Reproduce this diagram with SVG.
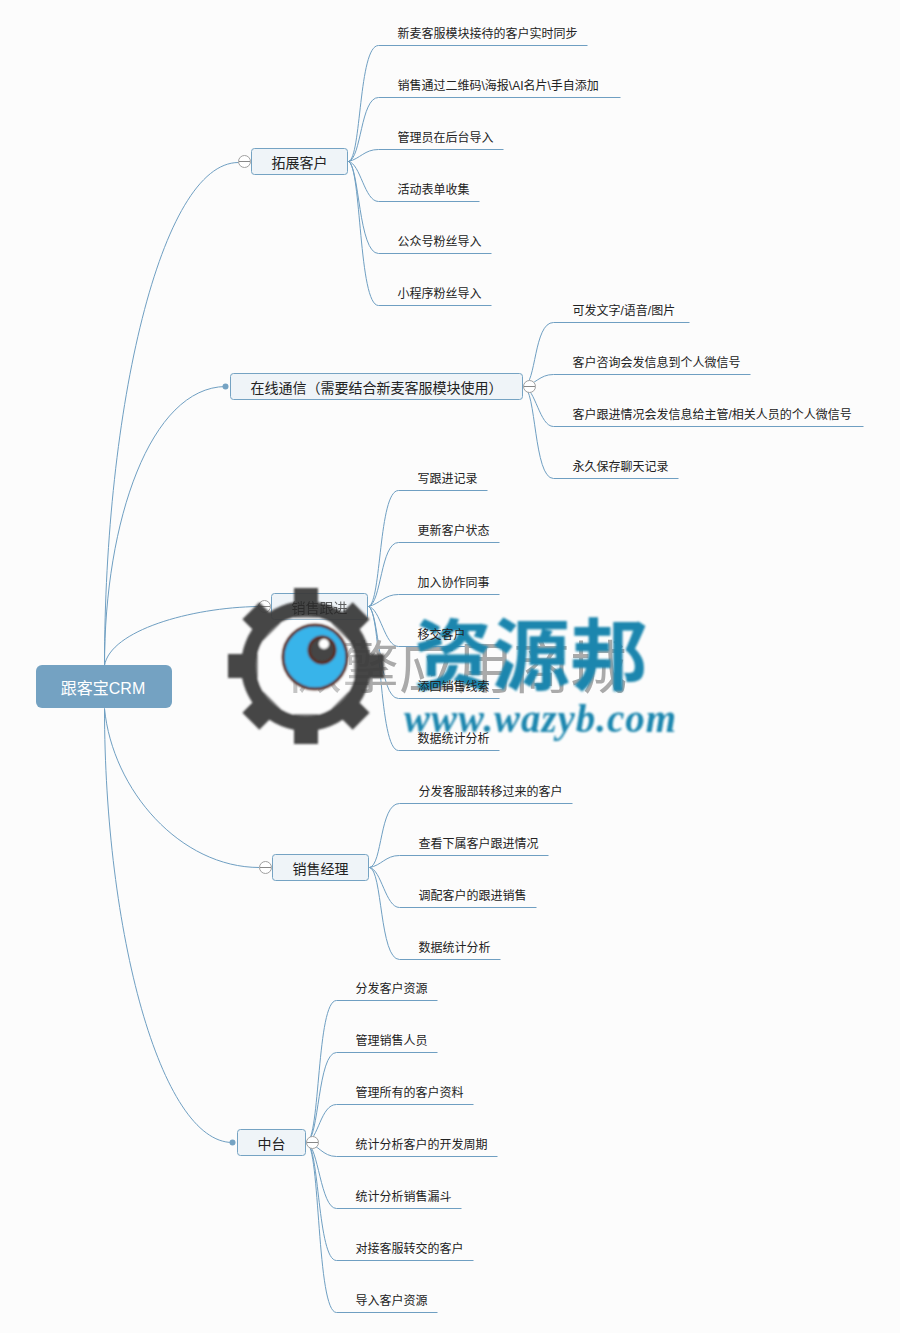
<svg xmlns="http://www.w3.org/2000/svg" width="900" height="1333" viewBox="0 0 900 1333">
<style>
text{font-family:"Liberation Sans","Noto Sans CJK SC",sans-serif;fill:#222}
.leaf{font-size:12px}
.topic{font-size:14px;text-anchor:middle}
.box{fill:#eff4f8;stroke:#75a3c3;stroke-width:1}
.root{fill:#74a2c2}
.rt{font-size:16px;fill:#fff;text-anchor:middle}
.c{fill:none;stroke:#6f9fc2;stroke-width:1}
.fold{fill:#fff;stroke:#a0a0a0;stroke-width:1}
.minus{stroke:#888;stroke-width:1}
.dot{fill:#75a3c3}
.tooth{fill:#3c3c3c}
</style>
<defs>
<filter id="soft" x="-5%" y="-5%" width="110%" height="110%"><feGaussianBlur stdDeviation="0.9"/></filter>
</defs>
<rect width="900" height="1333" fill="#fcfcfc"/>
<g id="connectors" transform="translate(0.5 0.5)">
<path class="c" d="M104 665C104 410 160 162 238 162"/>
<path class="c" d="M104 665C104 520 150 387 225 386"/>
<path class="c" d="M104 665C110 630 190 607 258 606"/>
<path class="c" d="M104 708C112 790 180 867 259 867"/>
<path class="c" d="M104 708C104 930 160 1142 232 1142"/>
<g id="c1">
<path class="c" d="M348 161C361 158 358 45 378 45H587"/>
<path class="c" d="M348 161C361 158 360 97 378 97H620"/>
<path class="c" d="M348 161C360 158 364 149 378 149H503"/>
<path class="c" d="M348 161C360 163 364 201 378 201H479"/>
<path class="c" d="M348 161C359 166 358 253 378 253H491"/>
<path class="c" d="M348 161C361 166 358 305 378 305H491"/>
</g>
<g id="c2">
<path class="c" d="M523 386C536 384 533 322 553 322H689"/>
<path class="c" d="M523 386C535 384 539 374 553 374H750"/>
<path class="c" d="M523 386C535 388 539 426 553 426H863"/>
<path class="c" d="M523 386C536 388 533 478 553 478H678"/>
</g>
<g id="c3">
<path class="c" d="M368 606C381 603 378 490 398 490H487"/>
<path class="c" d="M368 606C381 603 380 542 398 542H499"/>
<path class="c" d="M368 606C380 603 384 594 398 594H499"/>
<path class="c" d="M368 606C380 608 384 646 398 646H475"/>
<path class="c" d="M368 606C379 611 378 698 398 698H499"/>
<path class="c" d="M368 606C381 611 378 750 398 750H499"/>
</g>
<g id="c4">
<path class="c" d="M369 867C382 865 379 803 399 803H572"/>
<path class="c" d="M369 867C381 865 385 855 399 855H548"/>
<path class="c" d="M369 867C381 869 385 907 399 907H536"/>
<path class="c" d="M369 867C382 869 379 959 399 959H500"/>
</g>
<g id="c5">
<path class="c" d="M306 1142C320 1139 316 1000 336 1000H437"/>
<path class="c" d="M306 1142C319 1139 317 1052 336 1052H437"/>
<path class="c" d="M306 1142C318 1139 320 1104 336 1104H473"/>
<path class="c" d="M306 1142C318 1144 322 1156 336 1156H497"/>
<path class="c" d="M306 1142C318 1145 320 1208 336 1208H461"/>
<path class="c" d="M306 1142C319 1145 317 1260 336 1260H473"/>
<path class="c" d="M306 1142C320 1145 316 1312 336 1312H437"/>
</g>
</g>
<g id="root"><rect class="root" x="36" y="665" width="136" height="43" rx="6"/><text class="rt" x="103" y="694">跟客宝CRM</text></g>
<g id="n1"><rect class="box" x="251.500" y="148.500" width="96" height="26" rx="3"/><text class="topic" x="299.500" y="168">拓展客户</text><circle class="fold" cx="244.500" cy="161.500" r="6"/><path class="minus" d="M239 161.500H250"/></g>
<g id="n2"><rect class="box" x="230.500" y="373.500" width="292" height="26" rx="3"/><text class="topic" x="376.500" y="393">在线通信（需要结合新麦客服模块使用）</text><circle class="dot" cx="225.500" cy="386.500" r="3"/><circle class="fold" cx="529.500" cy="386.500" r="6"/><path class="minus" d="M524 386.500H535"/></g>
<g id="n3"><rect class="box" x="271.500" y="593.500" width="96" height="26" rx="3"/><circle class="fold" cx="264.500" cy="606.500" r="6"/><path class="minus" d="M259 606.500H270"/></g>
<g id="n4"><rect class="box" x="272.500" y="854.500" width="96" height="26" rx="3"/><text class="topic" x="320.500" y="874">销售经理</text><circle class="fold" cx="265.500" cy="867.500" r="6"/><path class="minus" d="M260 867.500H271"/></g>
<g id="n5"><rect class="box" x="237.500" y="1129.500" width="68" height="26" rx="3"/><text class="topic" x="271.500" y="1149">中台</text><circle class="dot" cx="232.500" cy="1142.500" r="3"/><circle class="fold" cx="312.500" cy="1142.500" r="6"/><path class="minus" d="M307 1142.500H318"/></g>
<g id="watermark">
<text x="285" y="688" font-size="57" style="fill:#aaa">微擎应用商城</text>
<g filter="url(#soft)">
<g transform="translate(306 666)">
<g opacity="0.95">
<rect class="tooth" x="-12" y="-78" width="24" height="30"/>
<rect class="tooth" x="-12" y="-78" width="24" height="30" transform="rotate(45)"/>
<rect class="tooth" x="-12" y="-78" width="24" height="30" transform="rotate(90)"/>
<rect class="tooth" x="-12" y="-78" width="24" height="30" transform="rotate(135)"/>
<rect class="tooth" x="-12" y="-78" width="24" height="30" transform="rotate(180)"/>
<rect class="tooth" x="-12" y="-78" width="24" height="30" transform="rotate(225)"/>
<rect class="tooth" x="-12" y="-78" width="24" height="30" transform="rotate(270)"/>
<rect class="tooth" x="-12" y="-78" width="24" height="30" transform="rotate(315)"/>
<path d="M-65 0A65 65 0 1 1 65 0A65 65 0 1 1 -65 0ZM-50 0A50 50 0 1 0 50 0A50 50 0 1 0 -50 0Z" fill="#3c3c3c"/>
</g>
<circle r="50" fill="#fff" opacity="0.3"/>
</g>
<circle cx="315" cy="657" r="32" fill="#37b4ea" stroke="#5a2a1c" stroke-width="3"/>
<circle cx="322" cy="650" r="13" fill="#444" stroke="#5a2a1c" stroke-width="3"/>
<circle cx="324" cy="644" r="5" fill="#fff"/>
</g>
<g filter="url(#soft)">
<text x="414" y="684" font-size="78" font-weight="700" style="fill:#1a86ae">资源邦</text>
<text x="404" y="732" font-size="39" font-weight="700" font-style="italic" textLength="272" style="fill:#1a86ae;font-family:'Liberation Serif',serif">www.wazyb.com</text>
</g>
</g>
<g id="n3-label"><text class="topic" x="319.500" y="613" style="fill:#222" opacity="0.7">销售跟进</text></g>
<g id="leaves">
<g id="l11"><text class="leaf" x="397.500" y="38">新麦客服模块接待的客户实时同步</text></g>
<g id="l12"><text class="leaf" x="397.500" y="90">销售通过二维码\海报\AI名片\手自添加</text></g>
<g id="l13"><text class="leaf" x="397.500" y="142">管理员在后台导入</text></g>
<g id="l14"><text class="leaf" x="397.500" y="194">活动表单收集</text></g>
<g id="l15"><text class="leaf" x="397.500" y="246">公众号粉丝导入</text></g>
<g id="l16"><text class="leaf" x="397.500" y="298">小程序粉丝导入</text></g>
<g id="l21"><text class="leaf" x="572.500" y="315">可发文字/语音/图片</text></g>
<g id="l22"><text class="leaf" x="572.500" y="367">客户咨询会发信息到个人微信号</text></g>
<g id="l23"><text class="leaf" x="572.500" y="419">客户跟进情况会发信息给主管/相关人员的个人微信号</text></g>
<g id="l24"><text class="leaf" x="572.500" y="471">永久保存聊天记录</text></g>
<g id="l31"><text class="leaf" x="417.500" y="483">写跟进记录</text></g>
<g id="l32"><text class="leaf" x="417.500" y="535">更新客户状态</text></g>
<g id="l33"><text class="leaf" x="417.500" y="587">加入协作同事</text></g>
<g id="l34"><text class="leaf" x="417.500" y="639">移交客户</text></g>
<g id="l35"><text class="leaf" x="417.500" y="691">添回销售线索</text></g>
<g id="l36"><text class="leaf" x="417.500" y="743">数据统计分析</text></g>
<g id="l41"><text class="leaf" x="418.500" y="796">分发客服部转移过来的客户</text></g>
<g id="l42"><text class="leaf" x="418.500" y="848">查看下属客户跟进情况</text></g>
<g id="l43"><text class="leaf" x="418.500" y="900">调配客户的跟进销售</text></g>
<g id="l44"><text class="leaf" x="418.500" y="952">数据统计分析</text></g>
<g id="l51"><text class="leaf" x="355.500" y="993">分发客户资源</text></g>
<g id="l52"><text class="leaf" x="355.500" y="1045">管理销售人员</text></g>
<g id="l53"><text class="leaf" x="355.500" y="1097">管理所有的客户资料</text></g>
<g id="l54"><text class="leaf" x="355.500" y="1149">统计分析客户的开发周期</text></g>
<g id="l55"><text class="leaf" x="355.500" y="1201">统计分析销售漏斗</text></g>
<g id="l56"><text class="leaf" x="355.500" y="1253">对接客服转交的客户</text></g>
<g id="l57"><text class="leaf" x="355.500" y="1305">导入客户资源</text></g>
</g>
</svg>
